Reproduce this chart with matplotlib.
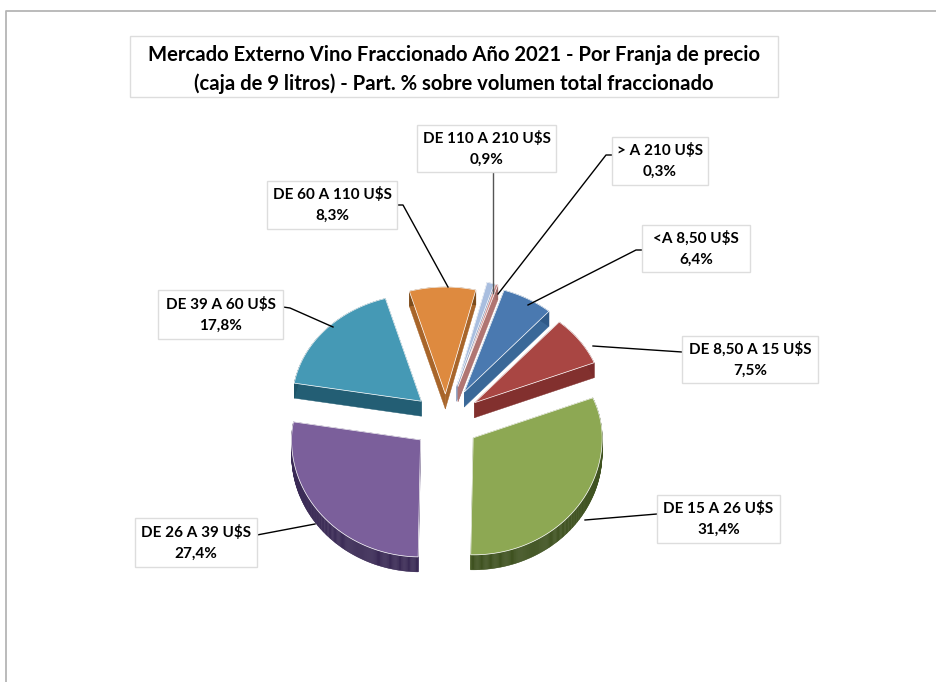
import numpy as np
import matplotlib
matplotlib.use('Agg')
import matplotlib.pyplot as plt
from matplotlib.patches import Polygon, Rectangle

# data, clockwise from the first slice
labels = ['<A 8,50 U$S', 'DE 8,50 A 15 U$S', 'DE 15 A 26 U$S', 'DE 26 A 39 U$S',
          'DE 39 A 60 U$S', 'DE 60 A 110 U$S', 'DE 110 A 210 U$S', '> A 210 U$S']
values = [6.4, 7.5, 31.4, 27.4, 17.8, 8.3, 0.9, 0.3]
title_lines = ['Mercado Externo Vino Fraccionado Año 2021 - Por Franja de precio',
               '(caja de 9 litros) - Part. % sobre volumen total fraccionado']

# styles
top_colors = ['#4A79B0', '#A94643', '#8DA853', '#7B5F9B', '#4599B5', '#DE8A3F', '#A9BEDF', '#CE8C88']
rim_colors = ['#2F5A88', '#7C2C2C', '#3F5220', '#3A2A55', '#1F5568', '#7A4A1A', '#7E93B5', '#A06A66']
cut_colors = ['#3A6898', '#82302E', '#5E7530', '#4A3868', '#235E74', '#A8652A', '#8CA2C4', '#B07572']
explode = [37, 35, 33, 33, 33, 30, 40, 40]

# layout (pixels)
W, H = 936, 682
cx, cy = 446, 421
rx, ry_top, ry_bottom = 129, 107, 117
depth = 15
start_angle = 18
boxes = [(642, 225, 108, 47), (682, 336, 136, 47), (657, 495, 123, 48), (135, 518, 122, 49),
         (158, 290, 125, 49), (267, 181, 130, 48), (417, 125, 139, 47), (612, 137, 96, 48)]
leaders = [[(642, 250), (636, 250), (528, 305)], [(682, 352), (593, 346)],
           [(657, 514), (585, 520)], [(257, 535), (315, 524)],
           [(283, 307), (290, 308), (333, 327)], [(397, 205), (403, 205), (448, 287)],
           [(493, 172), (493, 293)], [(612, 155), (606, 155), (498, 294)]]
leader_colors = ['black'] * 6 + ['#555555', 'black']

fig = plt.figure(figsize=(W / 100, H / 100), dpi=100)
ax = fig.add_axes([0, 0, 1, 1])
ax.set_xlim(0, W)
ax.set_ylim(H, 0)
ax.axis('off')

FONT = 'Lato'


def point(t, r=1.0):
    # t in degrees clockwise from north, top half a bit flatter than the bottom
    a = np.radians(t)
    ry = ry_top if np.cos(a) > 0 else ry_bottom
    return np.array([r * rx * np.sin(a), -r * ry * np.cos(a)])


# frame of the chart
ax.plot([6, 6, W], [H, 11, 11], color='#b5b5b5', lw=1.3)

# slices
fracs = np.array(values) / sum(values)
ends = start_angle + np.cumsum(fracs) * 360
starts = ends - fracs * 360

tips = []
for i in range(len(values)):
    mid = (starts[i] + ends[i]) / 2
    a = np.radians(mid)
    tips.append(np.array([cx + explode[i] * np.sin(a), cy - explode[i] * 0.9 * np.cos(a)]))

order = np.argsort([t[1] + point((starts[i] + ends[i]) / 2)[1] * 0.3 for i, t in enumerate(tips)])
z = 3
for i in order:
    ts = np.linspace(starts[i], ends[i], max(int(ends[i] - starts[i]) * 2, 4))
    tip = tips[i]
    rim = [tip + point(t) for t in ts]
    down = np.array([0, depth])
    # cut faces
    for p in (rim[0], rim[-1]):
        ax.add_patch(Polygon([tip, p, p + down, tip + down], closed=True, fc=cut_colors[i],
                             ec=cut_colors[i], lw=0.3, zorder=z))
    # outer rim
    for p, q in zip(rim[:-1], rim[1:]):
        ax.add_patch(Polygon([p, q, q + down, p + down], closed=True, fc=rim_colors[i],
                             ec=rim_colors[i], lw=0.3, zorder=z))
    # top face
    ax.add_patch(Polygon([tip] + rim, closed=True, fc=top_colors[i], ec='#ffffff', lw=0.5,
                         alpha=1, zorder=z + 1))
    z += 2

# leader lines
for pts, c in zip(leaders, leader_colors):
    xs, ys = zip(*pts)
    ax.plot(xs, ys, color=c, lw=1.0, zorder=40)

# title box
ax.add_patch(Rectangle((130, 36), 648, 61, fc='white', ec='#dddddd', lw=1, zorder=45))
ax.text(454, 55, title_lines[0], ha='center', va='center', fontsize=14.6,
        family=FONT, weight='bold', color='black', zorder=46)
ax.text(454, 84, title_lines[1], ha='center', va='center', fontsize=14.6,
        family=FONT, weight='bold', color='black', zorder=46)

# data labels
for (x, y, w, h), lab, v in zip(boxes, labels, values):
    ax.add_patch(Rectangle((x, y), w, h, fc='white', ec='#dddddd', lw=1, zorder=45))
    ax.text(x + w / 2, y + h * 0.29, lab, ha='center', va='center', fontsize=11,
            family=FONT, weight='bold', color='black', zorder=46)
    ax.text(x + w / 2, y + h * 0.73, f'{v:.1f}%'.replace('.', ','), ha='center', va='center',
            fontsize=11, family=FONT, weight='bold', color='black', zorder=46)

fig.savefig('out.png', dpi=100, facecolor='white')
